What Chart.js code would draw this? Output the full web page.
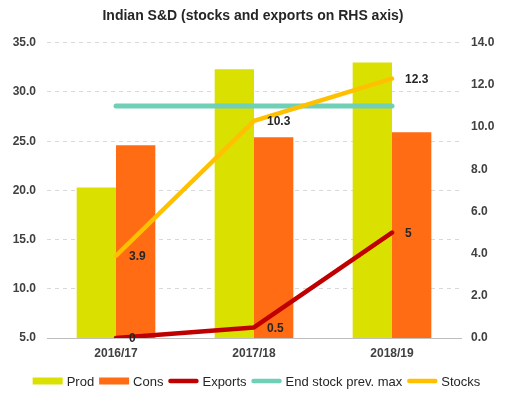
<!DOCTYPE html>
<html>
<head>
<meta charset="utf-8">
<title>Indian S&amp;D</title>
<script src="https://cdn.jsdelivr.net/npm/chart.js@4/dist/chart.umd.min.js"></script>
<style>
  html, body { margin: 0; padding: 0; background: #fff; }
  #wrap { width: 506px; height: 399px; }
</style>
</head>
<body>
<div id="wrap"><canvas id="sdChart"></canvas></div>
<script>
// chart values
const seasons = ['2016/17', '2017/18', '2018/19'];
const prod = [20.3, 32.3, 33.0];
const cons = [24.6, 25.4, 25.9];
const exportsVol = [0, 0.5, 5];
const endStockPrevMax = [11, 11, 11];
const stocks = [3.9, 10.3, 12.3];

const FONT = "'Liberation Sans', Arial, sans-serif";

// simple data label drawer (no datalabels plugin offline)
const valueLabels = {
    id: 'valueLabels',
    afterDatasetsDraw(chart) {
        const ctx = chart.ctx;
        ctx.save();
        ctx.font = 'bold 12px ' + FONT;
        ctx.fillStyle = '#262626';
        ctx.textAlign = 'left';
        ctx.textBaseline = 'middle';
        chart.data.datasets.forEach((ds, i) => {
            if (!ds.showLabels) return;
            chart.getDatasetMeta(i).data.forEach((pt, j) => {
                ctx.fillText(String(ds.data[j]), pt.x + 13, pt.y + 1);
            });
        });
        ctx.restore();
    }
};

// Excel-like legend row under the axis, tighter than the built-in one
const bottomLegend = {
    id: 'bottomLegend',
    afterDraw(chart) {
        const ctx = chart.ctx;
        const markW = 30, gapIn = 4, gapOut = 5;
        const y = 381;
        ctx.save();
        ctx.font = '13px ' + FONT;
        ctx.textBaseline = 'middle';
        ctx.textAlign = 'left';
        const items = chart.data.datasets.map(ds => ({ ds, w: ctx.measureText(ds.label).width }));
        let total = 0;
        items.forEach((it, i) => { total += markW + gapIn + it.w + (i < items.length - 1 ? gapOut : 0); });
        let x = 256.5 - total / 2;
        items.forEach(it => {
            const ds = it.ds;
            if (ds.type === 'line') {
                ctx.strokeStyle = ds.borderColor;
                ctx.lineWidth = 4.5;
                ctx.lineCap = 'round';
                ctx.beginPath();
                ctx.moveTo(x + 2, y);
                ctx.lineTo(x + markW - 2, y);
                ctx.stroke();
            } else {
                ctx.fillStyle = ds.backgroundColor;
                ctx.fillRect(x, y - 3.5, markW, 7);
            }
            x += markW + gapIn;
            ctx.fillStyle = '#262626';
            ctx.fillText(ds.label, x, y + 1);
            x += it.w + gapOut;
        });
        ctx.restore();
    }
};

new Chart('sdChart', {
    type: 'bar',
    data: {
        labels: seasons,
        datasets: [
            { label: 'Prod', data: prod, backgroundColor: '#dae100', yAxisID: 'y', order: 10 },
            { label: 'Cons', data: cons, backgroundColor: '#ff6c14', yAxisID: 'y', order: 10 },
            { type: 'line', label: 'Exports', data: exportsVol, borderColor: '#c00000', backgroundColor: '#c00000',
              borderWidth: 4.5, pointRadius: 0, borderCapStyle: 'round', borderJoinStyle: 'round',
              yAxisID: 'y1', order: 2, showLabels: true },
            { type: 'line', label: 'End stock prev. max', data: endStockPrevMax, borderColor: '#6fd0b7',
              backgroundColor: '#6fd0b7', borderWidth: 5, pointRadius: 0, borderCapStyle: 'round',
              yAxisID: 'y1', order: 1 },
            { type: 'line', label: 'Stocks', data: stocks, borderColor: '#ffc000', backgroundColor: '#ffc000',
              borderWidth: 4.5, pointRadius: 0, borderCapStyle: 'round', borderJoinStyle: 'round',
              yAxisID: 'y1', order: 0, showLabels: true }
        ]
    },
    options: {
        responsive: true,
        maintainAspectRatio: false,
        animation: false,
        layout: { padding: { top: 0, left: 0, right: 0, bottom: 25 } },
        datasets: { bar: { categoryPercentage: 0.57, barPercentage: 1 } },
        plugins: {
            tooltip: { enabled: false },
            legend: { display: false },
            title: {
                display: true,
                text: 'Indian S&D (stocks and exports on RHS axis)',
                color: '#262626',
                font: { family: FONT, size: 14, weight: 'bold' },
                padding: { top: 8, bottom: 18 }
            }
        },
        scales: {
            x: {
                grid: { drawOnChartArea: false, drawTicks: false },
                border: { display: true, color: '#bfbfbf', width: 1 },
                ticks: { color: '#404040', padding: 8, font: { family: FONT, size: 12, weight: 'bold' } },
                afterFit(scale) { scale.height = 36; }
            },
            y: {
                position: 'left',
                min: 5,
                max: 35,
                ticks: {
                    stepSize: 5,
                    padding: 11,
                    color: '#404040',
                    font: { family: FONT, size: 12, weight: 'bold' },
                    callback: v => v.toFixed(1)
                },
                grid: { color: '#d9d9d9', drawTicks: false },
                border: { display: false, dash: [4, 4] },
                afterFit(scale) { scale.width = 47; }
            },
            y1: {
                position: 'right',
                min: 0,
                max: 14,
                ticks: {
                    stepSize: 2,
                    padding: 10,
                    color: '#404040',
                    font: { family: FONT, size: 12, weight: 'bold' },
                    callback: v => v.toFixed(1)
                },
                grid: { drawOnChartArea: false, drawTicks: false },
                border: { display: false },
                afterFit(scale) { scale.width = 45; }
            }
        }
    },
    plugins: [valueLabels, bottomLegend]
});
</script>
</body>
</html>
